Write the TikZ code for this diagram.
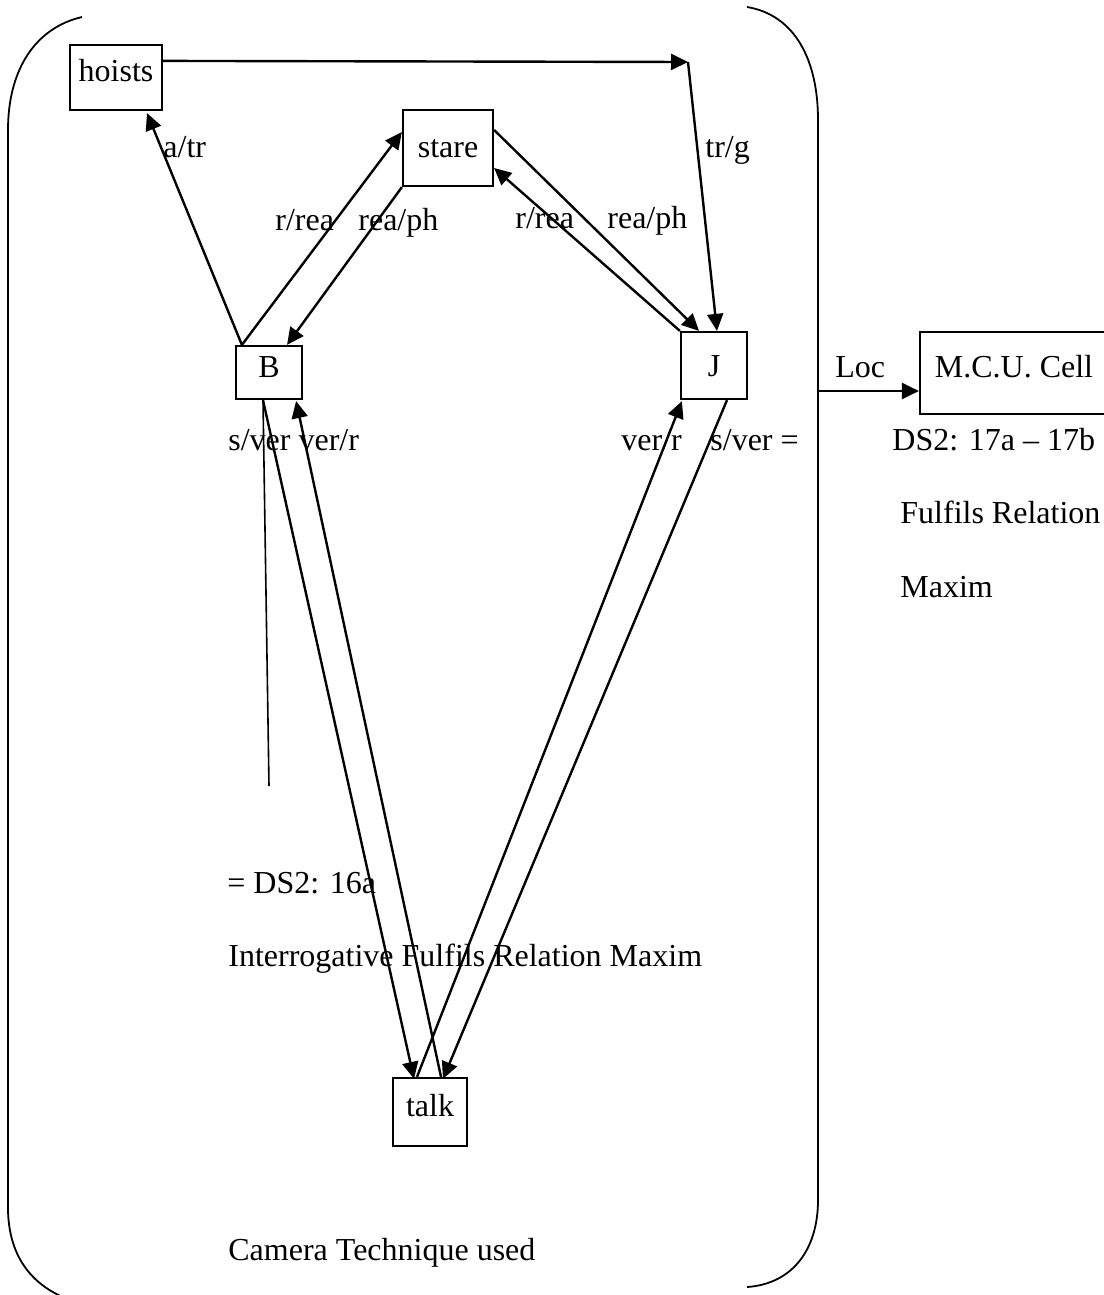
\documentclass[tikz,border=0pt]{standalone}
\usepackage{fontspec}
\setmainfont{Liberation Serif}
\usetikzlibrary{arrows.meta}
\begin{document}
\begin{tikzpicture}[x=0.5pt,y=-0.5pt,
  every node/.style={font=\fontsize{16pt}{19pt}\selectfont},
  box/.style={draw, line width=1.1pt, inner sep=0pt, text height=11pt},
  conn/.style={line width=1.2pt, -{Triangle[length=8.5pt,width=8pt]}},
  plain/.style={line width=0.8pt},
  bracket/.style={line width=0.9pt},
  lbl/.style={anchor=base west, inner sep=0pt}]
\useasboundingbox (0,0) rectangle (1103,1295);

% enclosing brackets
\draw[bracket] (82,17) .. controls (35,28) and (8,70) .. (8,130)
  -- (8,1210) .. controls (9,1260) and (35,1287) .. (70,1300);
\draw[bracket] (747,7) .. controls (795,15) and (818,60) .. (818,120)
  -- (818,1200) .. controls (818,1250) and (792,1284) .. (747,1287);

% boxes
\node[box, minimum width=46pt, minimum height=32.5pt, text depth=6.5pt] (hoists) at (116,77.5) {hoists};
\node[box, minimum width=45pt, minimum height=38pt, text depth=2pt] (stare) at (448,148) {stare};
\node[box, minimum width=33pt, minimum height=26.5pt, text depth=6.5pt] (B) at (269,372.5) {B};
\node[box, minimum width=33pt, minimum height=33.5pt, text depth=0pt] (J) at (714,365.5) {J};
\node[box, minimum width=37pt, minimum height=34pt, text depth=7pt] (talk) at (430,1112) {talk};
\node[box, minimum width=94pt, minimum height=41pt, text depth=7pt] (mcu) at (1014,373) {M.C.U. Cell};

% free ends
\coordinate (tc) at (688,62);
\coordinate (vl) at (269,786);
\coordinate (locstart) at (818,391);

% connectors
\draw[conn] ([yshift=-8.5pt]hoists.north east) -- (tc);
\draw[conn] (tc) -- ([xshift=1.5pt]J.north);
\draw[conn] ([xshift=3.5pt]B.north west) -- ([xshift=15.5pt,yshift=-1pt]hoists.south);
\draw[conn] ([xshift=3.5pt]B.north west) -- ([yshift=8pt]stare.west);
\draw[conn] (stare.south west) -- ([xshift=9pt]B.north);
\draw[conn] ([yshift=9pt]stare.east) -- ([xshift=-7.5pt]J.north);
\draw[conn] (J.north west) -- ([yshift=-10pt]stare.east);
\draw[conn] ([xshift=-3pt]B.south) -- ([xshift=-8pt,yshift=-1pt]talk.north);
\draw[conn] ([xshift=5.5pt]talk.north) -- ([xshift=-3.5pt,yshift=-0.5pt]B.south east);
\draw[conn] ([xshift=-6.5pt]talk.north) -- ([xshift=1pt,yshift=-0.5pt]J.south west);
\draw[conn] ([xshift=6.5pt]J.south) -- ([xshift=6.5pt,yshift=-1pt]talk.north);
\draw[plain] ([xshift=-3pt]B.south) -- (vl);
\draw[conn] (locstart) -- ([yshift=-9pt]mcu.west);

% labels
\node[lbl] (l1) at (163,157) {a/tr};
\node[lbl] (l2) at (275,230) {r/rea};
\node[lbl] (l3) at (358,230) {rea/ph};
\node[lbl] (l4) at (515,228) {r/rea};
\node[lbl] (l5) at (607,228) {rea/ph};
\node[lbl] (l6) at (705,157) {tr/g};
\node[lbl] (l7) at (228,450) {s/ver ver/r};
\node[lbl] (l8) at (621,450) {ver/r};
\node[lbl] (l9) at (710,450) {s/ver =};
\node[lbl] (l10) at (835,377) {Loc};
\node[lbl] (l11) at (892,450) {DS2: 17a – 17b};
\node[lbl] (l12) at (900,523) {Fulfils Relation};
\node[lbl] (l13) at (900,597) {Maxim};
\node[lbl] (l14) at (227,893) {= DS2: 16a};
\node[lbl] (l15) at (228,966) {Interrogative Fulfils Relation Maxim};
\node[lbl] (l16) at (228,1260) {Camera Technique used};
\end{tikzpicture}
\end{document}
